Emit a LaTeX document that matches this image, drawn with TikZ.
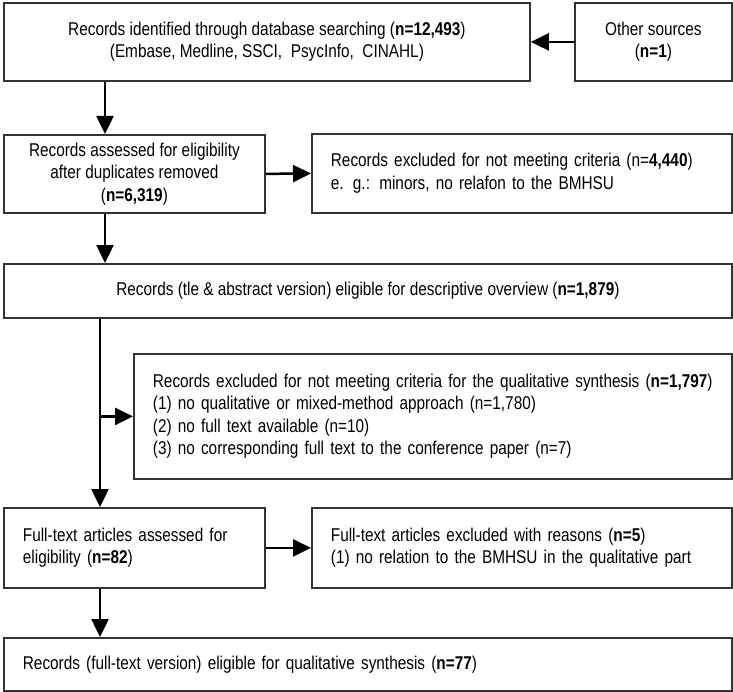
\documentclass[tikz,border=0pt]{standalone}
\usepackage{fontspec}
\setmainfont{Liberation Sans}[FakeStretch=0.83]
\usetikzlibrary{arrows.meta}
\begin{document}
\begin{tikzpicture}[x=1bp,y=-1bp,
  box/.style={draw=black!80, line width=1.8bp, anchor=north west, inner ysep=0pt,
    font=\fontsize{18.5bp}{22.5bp}\selectfont},
  cbox/.style={box, align=center, inner xsep=0pt},
  lbox/.style={box, align=left, inner xsep=19bp},
  arr/.style={line width=2.5bp, -{Triangle[length=18bp,width=17bp]}}]
\useasboundingbox (0,0) rectangle (733,692);
\node[cbox, minimum width=526bp, minimum height=78bp] (b1) at (3,2)
  {Records identified through database searching (\textbf{n=12,493})\\(Embase, Medline, SSCI,\ \ PsycInfo,\ \ CINAHL)};
\node[cbox, minimum width=157bp, minimum height=78bp] (os) at (574,2)
  {Other sources\\(\textbf{n=1})};
\node[cbox, minimum width=261bp, minimum height=78bp] (b2) at (3,134)
  {Records assessed for eligibility\\after duplicates removed\\(\textbf{n=6,319})};
\node[lbox, text width=382bp, minimum height=79bp] (e1) at (311,133)
  {Records excluded for not meeting criteria (n=\textbf{4,440})\\e. g.: minors, no relafon to the BMHSU};
\node[cbox, minimum width=728bp, minimum height=54bp] (b3) at (3,263)
  {Records (tle \& abstract version) eligible for descriptive overview (\textbf{n=1,879})};
\node[lbox, text width=560bp, minimum height=125bp] (e2) at (133,353)
  {Records excluded for not meeting criteria for the qualitative synthesis (\textbf{n=1,797})\\(1) no qualitative or mixed-method approach (n=1,780)\\(2) no full text available (n=10)\\(3) no corresponding full text to the conference paper (n=7)};
\node[lbox, text width=223bp, minimum height=80bp] (ft) at (3,507)
  {Full-text articles assessed for\\eligibility (\textbf{n=82})};
\node[lbox, text width=382bp, minimum height=80bp] (e3) at (311,507)
  {Full-text articles excluded with reasons (\textbf{n=5})\\(1) no relation to the BMHSU in the qualitative part};
\node[lbox, text width=690bp, minimum height=53bp] (fin) at (3,637)
  {Records (full-text version) eligible for qualitative synthesis (\textbf{n=77})};
\coordinate (c1) at (105,0);
\coordinate (c2) at (100,0);
\draw[arr] (os.west) -- (b1.east);
\draw[arr] (c1 |- b1.south) -- (c1 |- b2.north);
\draw[arr] (b2.east) -- (e1.west);
\draw[arr] (c1 |- b2.south) -- (c1 |- b3.north);
\draw[arr] (c2 |- b3.south) -- (c2 |- ft.north);
\draw[arr] (c2 |- e2.west) -- (e2.west);
\draw[arr] (ft.east) -- (e3.west);
\draw[arr] (c2 |- ft.south) -- (c2 |- fin.north);
\end{tikzpicture}
\end{document}
